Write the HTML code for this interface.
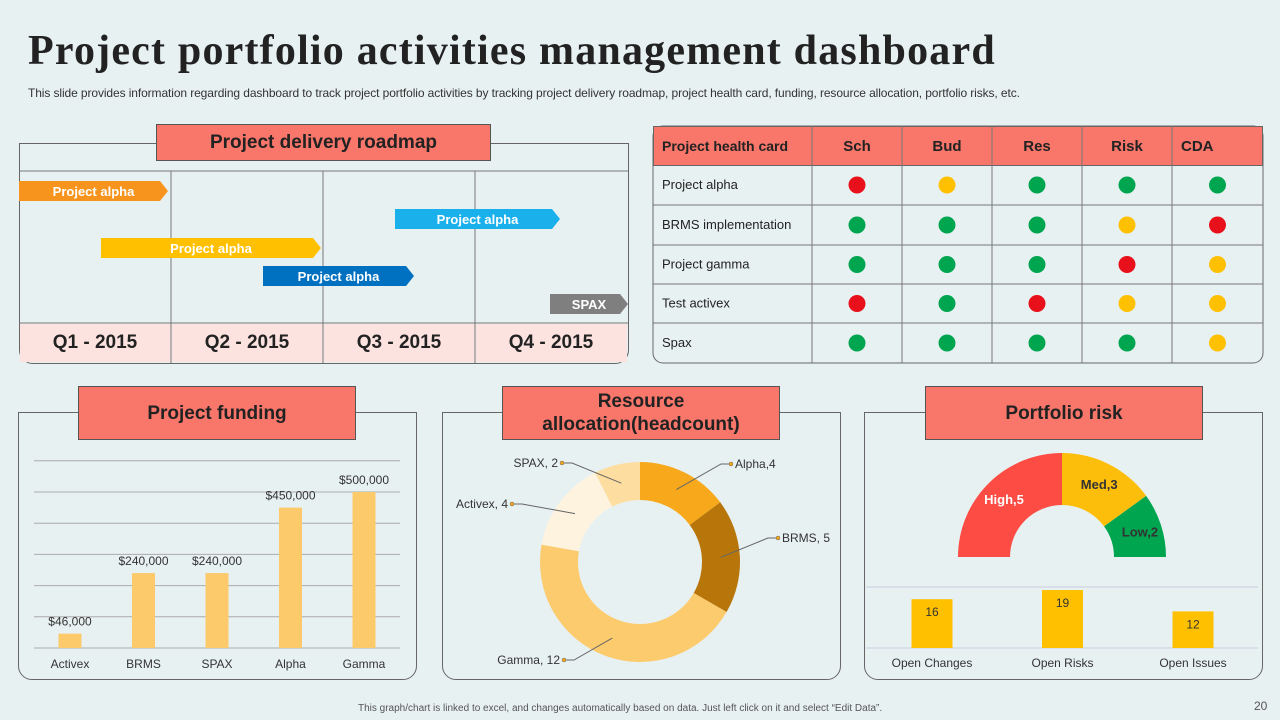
<!DOCTYPE html>
<html><head><meta charset="utf-8">
<style>
body{margin:0;width:1280px;height:720px;background:#e8f1f2;font-family:"Liberation Sans",sans-serif;position:relative;overflow:hidden}
.abs{position:absolute}
.t{position:absolute;left:28px;top:27px;font-family:"Liberation Serif",serif;font-weight:bold;font-size:42px;letter-spacing:1.2px;color:#222}
.sub{position:absolute;left:28px;top:86px;font-size:12px;color:#333;letter-spacing:-0.1px}
.panel{position:absolute;border:1px solid #666;border-radius:0 0 14px 14px;border-top:1px solid #666}
.hdr{position:absolute;background:#f8766a;border:1px solid #555;font-weight:bold;font-size:19px;color:#222;display:flex;align-items:center;justify-content:center;text-align:center;line-height:23px}
.arrow{position:absolute;height:20px;color:#fff;font-weight:bold;font-size:13px;display:flex;align-items:center;justify-content:center;clip-path:polygon(0 0,calc(100% - 8px) 0,100% 50%,calc(100% - 8px) 100%,0 100%)}
</style></head><body>
<div class="t">Project portfolio activities management dashboard</div>
<div class="sub">This slide provides information regarding dashboard to track project portfolio activities by tracking project delivery roadmap, project health card, funding, resource allocation, portfolio risks, etc.</div>

<!-- Roadmap -->
<div class="panel" style="left:19px;top:143px;width:608px;height:219px"></div>
<svg class="abs" style="left:0;top:0" width="1280" height="720">
<line x1="171" y1="171" x2="171" y2="363" stroke="#777"/><line x1="323" y1="171" x2="323" y2="363" stroke="#777"/><line x1="475" y1="171" x2="475" y2="363" stroke="#777"/>
<line x1="19" y1="171" x2="628" y2="171" stroke="#777"/>
<rect x="20" y="324" width="151" height="38" fill="#fde3e0"/><rect x="172" y="324" width="151" height="38" fill="#fde3e0"/><rect x="324" y="324" width="151" height="38" fill="#fde3e0"/><rect x="476" y="324" width="151" height="38" fill="#fde3e0"/>
<line x1="19" y1="323" x2="628" y2="323" stroke="#777"/>
<line x1="171" y1="323" x2="171" y2="363" stroke="#777"/><line x1="323" y1="323" x2="323" y2="363" stroke="#777"/><line x1="475" y1="323" x2="475" y2="363" stroke="#777"/>
</svg>
<div class="hdr" style="left:156px;top:124px;width:333px;height:35px">Project delivery roadmap</div>
<div class="arrow" style="left:19px;top:181px;width:149px;background:#f7941d">Project alpha</div>
<div class="arrow" style="left:395px;top:209px;width:165px;background:#1ab0ec">Project alpha</div>
<div class="arrow" style="left:101px;top:238px;width:220px;background:#ffc000">Project alpha</div>
<div class="arrow" style="left:263px;top:266px;width:151px;background:#0070c0">Project alpha</div>
<div class="arrow" style="left:550px;top:294px;width:78px;background:#7f7f7f">SPAX</div>
<div class="abs" style="left:19px;top:332px;width:152px;text-align:center;font-weight:bold;font-size:19px;color:#222">Q1 - 2015</div>
<div class="abs" style="left:171px;top:332px;width:152px;text-align:center;font-weight:bold;font-size:19px;color:#222">Q2 - 2015</div>
<div class="abs" style="left:323px;top:332px;width:152px;text-align:center;font-weight:bold;font-size:19px;color:#222">Q3 - 2015</div>
<div class="abs" style="left:475px;top:332px;width:152px;text-align:center;font-weight:bold;font-size:19px;color:#222">Q4 - 2015</div>

<!-- Health card -->
<svg id="health" class="abs" style="left:0;top:0" width="1280" height="720"></svg>

<!-- Panels -->
<div class="panel" style="left:18px;top:412px;width:397px;height:266px"></div>
<div class="hdr" style="left:78px;top:386px;width:276px;height:52px">Project funding</div>
<div class="panel" style="left:442px;top:412px;width:397px;height:266px"></div>
<div class="hdr" style="left:502px;top:386px;width:276px;height:52px">Resource allocation(headcount)</div>
<div class="panel" style="left:864px;top:412px;width:397px;height:266px"></div>
<div class="hdr" style="left:925px;top:386px;width:276px;height:52px">Portfolio risk</div>
<svg id="charts" class="abs" style="left:0;top:0" width="1280" height="720"></svg>

<div class="abs" style="left:358px;top:703px;font-size:10px;color:#555">This graph/chart is linked to excel, and changes automatically based on data. Just left click on it and select “Edit Data”.</div>
<div class="abs" style="left:1254px;top:699px;font-size:12px;color:#555">20</div>

<script>
const NS="http://www.w3.org/2000/svg";
function mk(p,tag,a,txt){const e=document.createElementNS(NS,tag);for(const k in a)e.setAttribute(k,a[k]);if(txt!==undefined)e.textContent=txt;p.appendChild(e);return e;}

// Health card data
const hcCols=["Project health card","Sch","Bud","Res","Risk","CDA"];
const hcRows=["Project alpha","BRMS implementation","Project gamma","Test activex","Spax"];
const hcStatus=[["r","y","g","g","g"],["g","g","g","y","r"],["g","g","g","r","y"],["r","g","r","y","y"],["g","g","g","g","y"]];
const hs=document.getElementById('health');
const cx=[653,812,902,992,1082,1172,1263], ry=[126,165,205,245,284,323,363];
const colMap={r:"#e8101a",y:"#ffc000",g:"#00a550"};
let r=mk(hs,'rect',{x:653,y:126,width:610,height:237,rx:10,fill:"#e8f1f2",stroke:"#666"});


r=mk(hs,'rect',{x:653.5,y:126.5,width:609,height:39,fill:"#f8766a",stroke:"#666"});


for(let i=1;i<6;i++) mk(hs,'line',{x1:cx[i],y1:126,x2:cx[i],y2:363,stroke:"#777"});
for(let j=2;j<6;j++) mk(hs,'line',{x1:653,y1:ry[j],x2:1263,y2:ry[j],stroke:"#777"});
hcCols.forEach((c,i)=>{const t=mk(hs,'text',{x:i==0?662:cx[i]+(i==5?9:(cx[i+1]-cx[i])/2),y:151,'text-anchor':i==0||i==5?'start':'middle','font-size':i==0?14:15,'font-weight':'bold',fill:'#222'},c);

});
hcRows.forEach((rw,j)=>{const y=(ry[j+1]+ry[j+2])/2;
const t=mk(hs,'text',{x:662,y:y+4,'font-size':13,fill:'#222'},rw);


hcStatus[j].forEach((s,i)=>{const d=mk(hs,'circle',{cx:(cx[i+1]+cx[i+2])/2,cy:y,r:8.5,fill:colMap[s]});

});});

// Funding chart
const fundCats=["Activex","BRMS","SPAX","Alpha","Gamma"];
const fundVals=[46000,240000,240000,450000,500000];
const fundLabels=["$46,000","$240,000","$240,000","$450,000","$500,000"];
const fundTicks=[0,100000,200000,300000,400000,500000,600000];
const cs=document.getElementById('charts');
const fy=v=>648-v/100000*31.2, fx=i=>70+i*73.5;
fundTicks.forEach(t=>{const l=mk(cs,'line',{x1:34,x2:400,y1:fy(t),y2:fy(t),stroke:"#aaa"});

});
fundVals.forEach((v,i)=>{const b=mk(cs,'rect',{x:fx(i)-11.5,y:fy(v),width:23,height:648-fy(v),fill:"#fcc96b"});


const t=mk(cs,'text',{x:fx(i),y:fy(v)-8,'text-anchor':'middle','font-size':12,fill:'#333'},fundLabels[i]);


const c=mk(cs,'text',{x:fx(i),y:668,'text-anchor':'middle','font-size':12,fill:'#333'},fundCats[i]);

});

// Donut
const resCats=["Alpha","BRMS","Gamma","Activex","SPAX"];
const resVals=[4,5,12,4,2];
const resLabels=["Alpha,4","BRMS, 5","Gamma, 12","Activex,  4","SPAX,  2"];
const resColors=["#f7a81b","#b8760a","#fccb6e","#fef3df","#fddda0"];
const dcx=640,dcy=562,R=100,Ri=62;
const tot=resVals.reduce((a,b)=>a+b,0);
const pt=(a,rr,x0,y0)=>[x0+rr*Math.sin(a),y0-rr*Math.cos(a)];
const lblPos=[[735,468,'start'],[782,542,'start'],[560,664,'end'],[508,508,'end'],[558,467,'end']];
let acc=0;
resVals.forEach((v,i)=>{const a0=acc/tot*2*Math.PI;acc+=v;const a1=acc/tot*2*Math.PI;const lg=a1-a0>Math.PI?1:0;
const p1=pt(a0,R,dcx,dcy),p2=pt(a1,R,dcx,dcy),p3=pt(a1,Ri,dcx,dcy),p4=pt(a0,Ri,dcx,dcy);
const p=mk(cs,'path',{d:`M${p1}A${R},${R} 0 ${lg} 1 ${p2}L${p3}A${Ri},${Ri} 0 ${lg} 0 ${p4}Z`,fill:resColors[i]});


const am=(a0+a1)/2, m=pt(am,(R+Ri)/2,dcx,dcy), L=lblPos[i];
const ex=L[2]=='start'?L[0]-4:L[0]+4;
mk(cs,'polyline',{points:`${m} ${ex+(L[2]=='start'?-10:10)},${L[1]-4} ${ex},${L[1]-4}`,fill:'none',stroke:'#666'});
mk(cs,'circle',{cx:ex,cy:L[1]-4,r:2,fill:'#f7a81b',stroke:'#666','stroke-width':0.5});
const t=mk(cs,'text',{x:L[0],y:L[1],'text-anchor':L[2],'font-size':12,fill:'#333'},resLabels[i]);

});

// Gauge
const riskCats=["High","Med","Low"];
const riskVals=[5,3,2];
const riskColors=["#fd4c44","#fcbd0b","#00a550"];
const riskTextCol=["#fff","#333","#333"];
const gcx=1062,gcy=557,GR=104,GRi=52;
const rt=riskVals.reduce((a,b)=>a+b,0);let ga=0;
riskVals.forEach((v,i)=>{const a0=Math.PI+ga/rt*Math.PI;ga+=v;const a1=Math.PI+ga/rt*Math.PI;
const P=(a,rr)=>[gcx+rr*Math.cos(a),gcy+rr*Math.sin(a)];
const p=mk(cs,'path',{d:`M${P(a0,GR)}A${GR},${GR} 0 0 1 ${P(a1,GR)}L${P(a1,GRi)}A${GRi},${GRi} 0 0 0 ${P(a0,GRi)}Z`,fill:riskColors[i]});


const m=P((a0+a1)/2,(GR+GRi)/2+4);
const t=mk(cs,'text',{x:m[0],y:m[1]+5,'text-anchor':'middle','font-size':13,'font-weight':'bold',fill:riskTextCol[i]},riskCats[i]+","+v);

});

// Open items
const openCats=["Open Changes","Open Risks","Open Issues"];
const openVals=[16,19,12];
const oy=v=>648-v*3.05, ox=i=>932+i*130.5;
mk(cs,'line',{x1:866,x2:1258,y1:587,y2:587,stroke:"#ccd"});
mk(cs,'line',{x1:866,x2:1258,y1:648,y2:648,stroke:"#ccd"});
openVals.forEach((v,i)=>{const b=mk(cs,'rect',{x:ox(i)-20.5,y:oy(v),width:41,height:648-oy(v),fill:"#ffc000"});


const t=mk(cs,'text',{x:ox(i),y:oy(v)+17,'text-anchor':'middle','font-size':12,fill:'#333'},v);


const c=mk(cs,'text',{x:ox(i),y:667,'text-anchor':'middle','font-size':12,fill:'#333'},openCats[i]);

});
</script>
</body></html>
